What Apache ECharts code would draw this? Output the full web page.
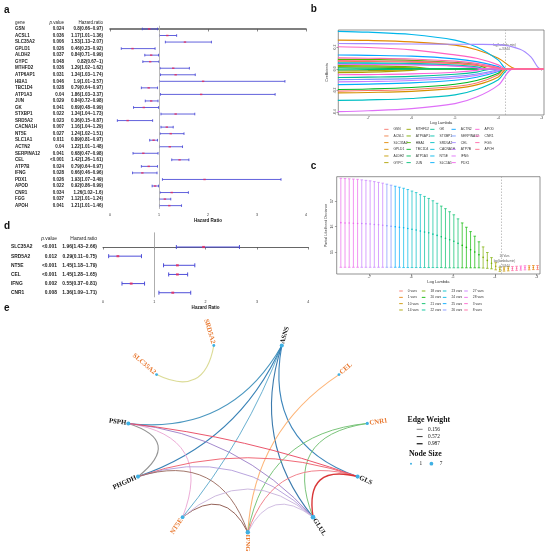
<!DOCTYPE html>
<html>
<head>
<meta charset="UTF-8">
<title>lasso cox figure</title>
<script src="https://cdn.jsdelivr.net/npm/echarts@6/dist/echarts.min.js"></script>
<style>
html, body { margin: 0; padding: 0; background: #fff; }
#main { width: 550px; height: 556px; }
</style>
</head>
<body>
<div id="main"></div>
<script>
// ---- panel a: univariate cox ----
var genesA = ['GSN','ACSL1','SLC35A2','GPLD1','ALDH2','GYPC','MTHFD2','ATP6AP1','HBA1','TBC1D4',
  'ATP1A3','JUN','GK','STXBP1','SRD5A2','CACNA1H','NT5E','SLC1A1','ACTN2','SERPINA12',
  'CEL','ATP7B','IFNG','PDX1','APOD','CNR1','FGG','APOH'];
var pA = ['0.024','0.036','0.006','0.026','0.037','0.048','0.036','0.031','0.046','0.028',
  '0.04','0.029','0.041','0.022','0.023','0.007','0.027','0.011','0.04','0.041',
  '<0.001','0.024','0.028','0.026','0.022','0.034','0.037','0.041'];
var hrA = [0.8,1.17,1.53,0.46,0.84,0.82,1.29,1.34,1.9,0.79,1.86,0.84,0.69,1.34,0.36,1.16,1.24,0.89,1.22,0.68,1.42,0.79,0.66,1.93,0.92,1.26,1.12,1.21];
var loA = [0.66,1.01,1.13,0.23,0.71,0.67,1.02,1.03,1.01,0.64,1.03,0.72,0.48,1.04,0.15,1.04,1.02,0.81,1.01,0.47,1.26,0.64,0.46,1.07,0.86,1.02,1.01,1.01];
var hiA = [0.97,1.36,2.07,0.92,0.99,1,1.62,1.74,3.57,0.97,3.37,0.98,0.99,1.73,0.87,1.29,1.51,0.97,1.48,0.98,1.61,0.97,0.96,3.49,0.99,1.6,1.24,1.46];

// ---- panel d: multivariate cox ----
var genesD = ['SLC35A2','SRD5A2','NT5E','CEL','IFNG','CNR1'];
var pD = ['<0.001','0.012','<0.001','<0.001','0.002','0.008'];
var hrD = [1.96,0.29,1.45,1.45,0.55,1.36];
var loD = [1.43,0.11,1.18,1.28,0.37,1.09];
var hiD = [2.66,0.75,1.79,1.65,0.81,1.71];

var hrTicks = [0, 4];

// ---- panel b: lasso coefficient paths (read at these log lambda values) ----
var coefKnots = [-7.7, -7, -6, -5, -4.5, -4, -3.5, -3.25];
var coefPaths = [
  [-0.205,-0.2,-0.19,-0.163,-0.13,-0.055,0,0],
  [0.07,0.068,0.062,0.048,0.032,0.008,0,0],
  [0.264,0.261,0.248,0.218,0.175,0.098,0,0],
  [-0.222,-0.218,-0.207,-0.18,-0.148,-0.075,0,0],
  [-0.02,-0.017,-0.007,0,0,0,0,0],
  [-0.035,-0.031,-0.014,0,0,0,0,0],
  [0.02,0.018,0.008,0,0,0,0,0],
  [0.03,0.028,0.018,0,0,0,0,0],
  [0.087,0.085,0.078,0.058,0.038,0,0,0],
  [-0.19,-0.186,-0.172,-0.142,-0.108,-0.04,0,0],
  [0.008,0.006,0.002,0,0,0,0,0],
  [-0.01,-0.008,-0.003,0,0,0,0,0],
  [-0.08,-0.077,-0.07,-0.05,-0.03,0,0,0],
  [0.056,0.054,0.05,0.035,0.018,0,0,0],
  [-0.29,-0.286,-0.273,-0.24,-0.19,-0.1,0,0],
  [0.048,0.046,0.041,0.028,0.012,0,0,0],
  [0.345,0.337,0.316,0.264,0.2,0.08,0,0],
  [-0.145,-0.141,-0.13,-0.105,-0.078,-0.025,0,0],
  [0.127,0.124,0.116,0.092,0.066,0.02,0,0],
  [-0.1,-0.097,-0.09,-0.07,-0.048,-0.01,0,0],
  [0.233,0.231,0.228,0.226,0.225,0.222,0.18,0.11],
  [-0.12,-0.117,-0.108,-0.085,-0.06,-0.018,0,0],
  [-0.394,-0.386,-0.366,-0.32,-0.26,-0.15,0,0],
  [0.042,0.04,0.036,0.025,0.01,0,0,0],
  [-0.055,-0.053,-0.047,-0.032,-0.015,0,0,0],
  [0.203,0.196,0.174,0.128,0.097,0.036,0,0],
  [0.1,0.097,0.09,0.07,0.05,0.012,0,0],
  [0.075,0.073,0.068,0.053,0.036,0.006,0,0]
];
var coefZero = [-3.86,-3.95,-3.57,-3.8,-5.85,-5.7,-5.75,-5.45,-4.2,-3.88,-5.9,-5.95,-4.12,-4.3,-3.74,-4.35,
  -3.8,-3.92,-3.9,-3.97,-3.03,-3.93,-3.65,-4.4,-4.35,-3.84,-3.95,-3.96];
var lambdaMin = -3.844;

// ---- panel c: cross validation ----
var cvLambda = [-7.68,-7.58,-7.48,-7.38,-7.28,-7.18,-7.08,-6.98,-6.88,-6.78,-6.68,-6.58,-6.48,-6.38,-6.28,-6.18,
  -6.08,-5.98,-5.88,-5.78,-5.68,-5.58,-5.48,-5.38,-5.28,-5.18,-5.08,-4.98,-4.88,-4.78,-4.68,-4.58,
  -4.48,-4.38,-4.28,-4.18,-4.08,-3.98,-3.88,-3.78,-3.68,-3.58,-3.48,-3.38,-3.28,-3.18,-3.08,-2.98];
var cvNvars = [28,28,28,28,28,27,27,27,27,27,27,26,26,25,25,24,24,23,23,23,22,22,22,22,21,21,21,21,21,20,20,20,
  20,20,18,18,18,14,14,10,10,8,8,3,3,1,1,0];
var cvMean = [16.15,16.14,16.14,16.13,16.12,16.12,16.11,16.10,16.08,16.07,16.05,16.03,16.01,15.99,15.97,15.95,
  15.92,15.89,15.86,15.82,15.78,15.75,15.70,15.65,15.60,15.54,15.48,15.42,15.34,15.26,15.18,15.09,
  15.00,14.89,14.79,14.67,14.56,14.44,14.32,14.33,14.34,14.35,14.36,14.37,14.38,14.38,14.39,14.39];
var cvUp = [17.89,17.88,17.87,17.86,17.85,17.83,17.81,17.79,17.76,17.73,17.70,17.66,17.62,17.58,17.54,17.50,
  17.45,17.39,17.33,17.25,17.18,17.10,17.01,16.91,16.80,16.70,16.58,16.46,16.30,16.14,15.97,15.80,
  15.62,15.40,15.20,14.98,14.78,14.58,14.40,14.41,14.42,14.43,14.44,14.45,14.46,14.46,14.47,14.47];
var cvLo = [14.40,14.40,14.40,14.40,14.40,14.40,14.40,14.40,14.40,14.40,14.40,14.40,14.40,14.40,14.40,14.39,
  14.39,14.39,14.39,14.39,14.39,14.39,14.39,14.39,14.39,14.38,14.38,14.38,14.38,14.38,14.38,14.38,
  14.38,14.38,14.37,14.36,14.34,14.30,14.24,14.25,14.26,14.27,14.28,14.29,14.30,14.30,14.31,14.31];
var cvGroups = ['0 vars','1 vars','10 vars','14 vars','18 vars','20 vars','21 vars','22 vars',
  '23 vars','24 vars','25 vars','26 vars','27 vars','28 vars','3 vars','8 vars'];
var cvTicksY = [15, 16, 17];
var lambdaTicks = [-7, -6, -5, -4, -3];
var coefTicksY = [-0.4, -0.2, 0, 0.2];

// ---- panel e: correlation network ----
var netNodes = ['ASNS','CEL','CNR1','GLS','GLUL','IFNG','NT5E','PHGDH','PSPH','SLC35A2','SRD5A2'];
var netModelGenes = ['CEL','CNR1','IFNG','NT5E','SLC35A2','SRD5A2'];
var netEdges = [
  ['SLC35A2','SRD5A2','#d8d88e',1.1],
  ['ASNS','PSPH','#3a8dba',1.1],
  ['ASNS','PHGDH','#2877b0',1.1],
  ['ASNS','NT5E','#4ba0c6',0.9],
  ['ASNS','GLUL','#2a6fa6',1.1],
  ['ASNS','GLS','#2b7bb5',1.1],
  ['CEL','IFNG','#fdae6b',1.1],
  ['CNR1','IFNG','#6fbf6f',1.0],
  ['CNR1','GLUL','#6fbf6f',1.0],
  ['PSPH','PHGDH','#8a8a8a',1.1],
  ['PSPH','NT5E','#eaa6d4',1.0],
  ['PSPH','GLUL','#9b7fc8',1.0],
  ['PSPH','GLS','#e8485f',1.0],
  ['PHGDH','GLS','#ef5d6b',1.0],
  ['PHGDH','GLUL','#b39ddb',1.0],
  ['PHGDH','IFNG','#9a6a5e',1.0],
  ['NT5E','IFNG','#8c564b',1.0],
  ['NT5E','GLUL','#c9b3dc',1.0],
  ['IFNG','GLUL','#cdb8e0',1.0],
  ['IFNG','GLS','#f07a84',1.0],
  ['GLUL','GLS','#d62728',1.4]
];

var SANS = '"Liberation Sans", Arial, sans-serif';
var SERIF = '"Liberation Serif", "Times New Roman", serif';
var BAR_BLUE = '#4646d6';
var DOT_RED = '#e8285a';
var NODE_BLUE = '#3fb0e3';
var ORANGE = '#e8762c';

// ggplot2 style hue palette
function hcl(h, c, l) {
  var rad = h * Math.PI / 180;
  var U = c * Math.cos(rad), V = c * Math.sin(rad);
  var Xn = 0.95047, Yn = 1.0, Zn = 1.08883;
  var den = Xn + 15 * Yn + 3 * Zn;
  var un = 4 * Xn / den, vn = 9 * Yn / den;
  var Y = l > 8 ? Math.pow((l + 16) / 116, 3) : l / 903.3;
  var u = U / (13 * l) + un, v = V / (13 * l) + vn;
  var X = 9 * Y * u / (4 * v);
  var Z = (9 * Y - 15 * v * Y - v * X) / (3 * v);
  var rgb = [3.2404542 * X - 1.5371385 * Y - 0.4985314 * Z,
    -0.9692660 * X + 1.8760108 * Y + 0.0415560 * Z,
    0.0556434 * X - 0.2040259 * Y + 1.0572252 * Z];
  return '#' + rgb.map(function (q) {
    q = q <= 0.0031308 ? 12.92 * q : 1.055 * Math.pow(q, 1 / 2.4) - 0.055;
    q = Math.round(Math.max(0, Math.min(1, q)) * 255);
    return (q < 16 ? '0' : '') + q.toString(16);
  }).join('');
}
function huePal(n) {
  var out = [];
  for (var i = 0; i < n; i++) out.push(hcl(15 + i * 360 / n, 100, 65));
  return out;
}
var geneCols = huePal(genesA.length);
var groupCols = huePal(cvGroups.length);

// ---------- layout (pixels) ----------
var grids = [
  {left: 110, top: 25.7, width: 196, height: 183.2},    // a
  {left: 103, top: 232.4, width: 205.2, height: 64.9},  // d
  {left: 338.3, top: 30, width: 205.7, height: 85},     // b
  {left: 336.7, top: 176.7, width: 203.3, height: 97.3},// c
  {left: 127.1, top: 341.7, width: 241.4, height: 190.6}// e
];
grids.forEach(function (g) { g.outerBoundsMode = 'none'; g.containLabel = false; });
grids[2].show = true; grids[2].borderColor = '#666'; grids[2].borderWidth = 0.7;
grids[3].show = true; grids[3].borderColor = '#666'; grids[3].borderWidth = 0.7;

var RX = grids[4].width / 2, RY = grids[4].height / 2;
var B_MIN = -7.69, B_MAX = -2.947, C_MIN = -7.779, C_MAX = -2.921;

// ---------- forest helpers ----------
function forestBars(idx, lo, hi, cap, lw) {
  return {
    type: 'custom', xAxisIndex: idx, yAxisIndex: idx, silent: true, clip: false,
    data: lo.map(function (v, i) { return [v, hi[i], i]; }),
    encode: {x: [0, 1], y: 2},
    renderItem: function (params, api) {
      var y = api.value(2);
      var a = api.coord([api.value(0), y]);
      var b = api.coord([api.value(1), y]);
      var st = {stroke: BAR_BLUE, lineWidth: lw};
      return {type: 'group', children: [
        {type: 'line', shape: {x1: a[0], y1: a[1], x2: b[0], y2: b[1]}, style: st},
        {type: 'line', shape: {x1: a[0], y1: a[1] - cap, x2: a[0], y2: a[1] + cap}, style: st},
        {type: 'line', shape: {x1: b[0], y1: b[1] - cap, x2: b[0], y2: b[1] + cap}, style: st}
      ]};
    }
  };
}
function forestPoints(idx, hr, size, refColor) {
  return {
    type: 'scatter', xAxisIndex: idx, yAxisIndex: idx, silent: true,
    symbol: 'rect', symbolSize: size, itemStyle: {color: DOT_RED}, z: 3,
    data: hr.map(function (v, i) { return [v, i]; }),
    markLine: {
      silent: true, symbol: 'none', label: {show: false},
      lineStyle: {color: refColor, width: 0.8, type: 'solid'},
      data: [{xAxis: 1}]
    }
  };
}
function forestTable(idx, genes, pv, hr, lo, hi, cols, fs, showGene) {
  return {
    type: 'custom', xAxisIndex: idx, yAxisIndex: idx, silent: true, clip: false,
    data: genes.map(function (g, i) { return [0, i]; }),
    encode: {x: 0, y: 1},
    renderItem: function (params, api) {
      var i = params.dataIndex;
      var pt = api.coord([0, api.value(1)]);
      function txt(s, x, y, align, weight, rich) {
        var style = {text: s, fill: '#222', fontSize: fs, fontWeight: weight, fontFamily: SANS,
          align: align, verticalAlign: 'middle'};
        if (rich) style.rich = rich;
        return {type: 'text', x: x, y: y, style: style};
      }
      var kids = [
        txt(genes[i], pt[0] + cols[0], pt[1], 'left', 'bold'),
        txt(pv[i], pt[0] + cols[1], pt[1], 'right', 'bold'),
        txt(hr[i] + '(' + lo[i] + '~' + hi[i] + ')', pt[0] + cols[2], pt[1], 'right', 'bold')
      ];
      if (i === 0) {
        var hy = api.coord([0, -0.92])[1];
        if (showGene) kids.push(txt('gene', pt[0] + cols[0], hy, 'left', 'normal'));
        kids.push(txt('{i|p}.value', pt[0] + cols[1], hy, 'right', 'normal',
          {i: {fontStyle: 'italic', fontSize: fs, fontFamily: SANS}}));
        kids.push(txt('Hazard.ratio', pt[0] + cols[2], hy, 'right', 'normal'));
      }
      return {type: 'group', children: kids};
    }
  };
}
function hrAxis(idx, lineW, labelMargin, nameGap) {
  return {
    type: 'value', gridIndex: idx, min: hrTicks[0], max: hrTicks[1], interval: 1,
    axisLine: {show: true, lineStyle: {color: '#555', width: lineW}},
    axisTick: {show: true, length: 2.5, lineStyle: {color: '#555', width: 0.7}},
    axisLabel: {fontSize: 3.6, color: '#333', margin: labelMargin, fontFamily: SANS},
    splitLine: {show: false},
    name: 'Hazard Ratio', nameLocation: 'middle', nameGap: nameGap,
    nameTextStyle: {fontSize: 4.6, fontWeight: 'bold', color: '#222', fontFamily: SANS}
  };
}
function lassoX(idx, mn, mx) {
  return {
    type: 'value', gridIndex: idx, min: mn, max: mx,
    axisLine: {show: false},
    axisTick: {show: true, length: 1.8, customValues: lambdaTicks, lineStyle: {color: '#666', width: 0.6}},
    axisLabel: {fontSize: 3.4, color: '#444', margin: 1.8, customValues: lambdaTicks, fontFamily: SANS},
    splitLine: {show: false},
    name: 'Log Lambda', nameLocation: 'middle', nameGap: 5.5,
    nameTextStyle: {fontSize: 4, color: '#333', fontFamily: SANS}
  };
}
function lassoY(idx, mn, mx, ticks, name, gap, fmt, margin) {
  return {
    type: 'value', gridIndex: idx, min: mn, max: mx,
    axisLine: {show: false},
    axisTick: {show: true, length: 1.8, customValues: ticks, lineStyle: {color: '#666', width: 0.6}},
    axisLabel: {fontSize: 3.4, color: '#444', margin: margin, rotate: 90, customValues: ticks,
      formatter: fmt, fontFamily: SANS},
    splitLine: {show: false},
    name: name, nameLocation: 'middle', nameGap: gap, nameRotate: 90,
    nameTextStyle: {fontSize: 3.6, color: '#333', fontFamily: SANS}
  };
}

var series = [];
// a
series.push(forestTable(0, genesA, pA, hrA, loA, hiA, [-95, -46, -7], 4.5, true));
series.push(forestBars(0, loA, hiA, 1.3, 0.85));
series.push(forestPoints(0, hrA, [2.4, 1.5], '#aaa'));
// d
series.push(forestTable(1, genesD, pD, hrD, loD, hiD, [-92, -46, -6], 4.9, false));
series.push(forestBars(1, loD, hiD, 2, 0.95));
series.push(forestPoints(1, hrD, [2.8, 2.2], '#999'));

// b: coefficient paths
genesA.forEach(function (g, i) {
  var pts = [];
  for (var k = 0; k < coefKnots.length; k++) {
    if (coefKnots[k] < coefZero[i]) pts.push([coefKnots[k], coefPaths[i][k]]);
  }
  pts.push([coefZero[i], 0], [B_MAX, 0]);
  series.push({
    type: 'line', name: g, xAxisIndex: 2, yAxisIndex: 2, data: pts,
    showSymbol: false, smooth: 0.35, silent: true, clip: true,
    color: geneCols[i], lineStyle: {color: geneCols[i], width: 1.15}
  });
});
series.push({
  type: 'scatter', xAxisIndex: 2, yAxisIndex: 2, symbolSize: 0, silent: true,
  data: [[-3.86, 0.197]],
  label: {show: true, position: 'inside', formatter: 'log(lambda.min)\n=-3.844',
    fontSize: 3.2, lineHeight: 3.6, color: '#333', fontFamily: SANS},
  markLine: {silent: true, symbol: 'none', label: {show: false},
    lineStyle: {color: '#999', width: 0.6, type: [1.5, 1.5]}, data: [{xAxis: lambdaMin}]}
});

// c: cv error bars per variable-count group
cvGroups.forEach(function (grp, k) {
  var rows = [];
  cvLambda.forEach(function (lam, i) {
    if (cvNvars[i] + ' vars' === grp) rows.push([lam, cvLo[i], cvUp[i], cvMean[i]]);
  });
  series.push({
    type: 'custom', name: grp, xAxisIndex: 3, yAxisIndex: 3, silent: true,
    itemStyle: {color: groupCols[k]}, color: groupCols[k],
    data: rows, encode: {x: 0, y: [1, 2, 3]},
    renderItem: function (params, api) {
      var x = api.value(0);
      var a = api.coord([x, api.value(1)]);
      var b = api.coord([x, api.value(2)]);
      var m = api.coord([x, api.value(3)]);
      var col = groupCols[k];
      var st = {stroke: col, lineWidth: 0.7};
      return {type: 'group', children: [
        {type: 'line', shape: {x1: a[0], y1: a[1], x2: b[0], y2: b[1]}, style: st},
        {type: 'line', shape: {x1: a[0] - 1.3, y1: a[1], x2: a[0] + 1.3, y2: a[1]}, style: st},
        {type: 'line', shape: {x1: b[0] - 1.3, y1: b[1], x2: b[0] + 1.3, y2: b[1]}, style: st},
        {type: 'circle', shape: {cx: m[0], cy: m[1], r: 0.8}, style: {fill: col}}
      ]};
    }
  });
});
series.push({
  type: 'scatter', xAxisIndex: 3, yAxisIndex: 3, symbolSize: 0, silent: true,
  data: [[-3.77, 14.64]],
  label: {show: true, position: 'inside', formatter: '14 Vars\nlog(lambda.min)\n=-3.844',
    fontSize: 3, lineHeight: 5.3, color: '#333', fontFamily: SANS},
  markLine: {silent: true, symbol: 'none', label: {show: false},
    lineStyle: {color: '#999', width: 0.6, type: [1.5, 1.5]}, data: [{xAxis: lambdaMin}]}
});

// e: network on an ellipse (nodes in alphabetical order round the ring)
var angleOf = {};
netNodes.forEach(function (n, i) { angleOf[n] = (286.36 + i * 360 / netNodes.length) * Math.PI / 180; });
var degree = {};
netNodes.forEach(function (n) { degree[n] = 0; });
netEdges.forEach(function (e) { degree[e[0]]++; degree[e[1]]++; });

// arc bent towards the centre, like arcs drawn on a circular layout
function arcCurveness(a1, a2) {
  var p1 = [Math.cos(a1), Math.sin(a1)], p2 = [Math.cos(a2), Math.sin(a2)];
  var m = [(p1[0] + p2[0]) / 2, (p1[1] + p2[1]) / 2];
  var ml = Math.sqrt(m[0] * m[0] + m[1] * m[1]);
  if (ml < 1e-3) return 0;
  var half = Math.acos(Math.min(1, ml));
  var apexR = 1 / Math.cos(half) - Math.tan(half);
  var apex = [m[0] / ml * apexR, m[1] / ml * apexR];
  var q = [2 * apex[0] - m[0], 2 * apex[1] - m[1]];
  var P1 = [p1[0] * RX, p1[1] * RY], P2 = [p2[0] * RX, p2[1] * RY], Q = [q[0] * RX, q[1] * RY];
  var M = [(P1[0] + P2[0]) / 2, (P1[1] + P2[1]) / 2];
  var n = [P2[1] - P1[1], P1[0] - P2[0]];
  return ((Q[0] - M[0]) * n[0] + (Q[1] - M[1]) * n[1]) / (n[0] * n[0] + n[1] * n[1]);
}

var nodeData = netNodes.map(function (n) {
  var a = angleOf[n];
  var c = Math.cos(a), s = Math.sin(a);
  var size = 2.6 + degree[n] * 0.3;
  var right = c > -1e-6;
  var deg = a * 180 / Math.PI;
  return {
    name: n, value: [c, s], symbolSize: size,
    label: {
      show: true, formatter: n,
      position: [size / 2 + 2.2 * c, size / 2 + 2.2 * s],
      align: right ? 'left' : 'right', verticalAlign: 'middle',
      rotate: right ? -deg : 180 - deg,
      color: netModelGenes.indexOf(n) >= 0 ? ORANGE : '#111',
      fontSize: 6.8, fontWeight: 'bold', fontFamily: SERIF
    }
  };
});
var linkData = netEdges.map(function (e) {
  return {
    source: e[0], target: e[1],
    lineStyle: {color: e[2], width: e[3], opacity: 0.92, curveness: arcCurveness(angleOf[e[0]], angleOf[e[1]])}
  };
});
series.push({
  type: 'graph', coordinateSystem: 'cartesian2d', xAxisIndex: 4, yAxisIndex: 4,
  layout: 'none', silent: true, symbol: 'circle',
  itemStyle: {color: NODE_BLUE}, emphasis: {disabled: true},
  data: nodeData, links: linkData, z: 2
});

// legends for b and c
var legends = [];
var bCols = [384.2, 406.5, 430.2, 451.5, 475.2];
for (var col = 0; col < 5; col++) {
  legends.push({
    data: genesA.slice(col * 6, col * 6 + 6), orient: 'vertical', left: bCols[col], top: 126.8,
    icon: 'rect', itemWidth: 4.3, itemHeight: 0.9, itemGap: 1.67, padding: 0, selectedMode: false,
    textStyle: {fontSize: 3.3, lineHeight: 5, color: '#333', fontFamily: SANS}
  });
}
var cCols = [399.2, 421.8, 442.8, 464.2];
for (col = 0; col < 4; col++) {
  legends.push({
    data: cvGroups.slice(col * 4, col * 4 + 4), orient: 'vertical', left: cCols[col], top: 288.5,
    icon: 'rect', itemWidth: 3.6, itemHeight: 0.9, itemGap: 1.33, padding: 0, selectedMode: false,
    textStyle: {fontSize: 3.3, lineHeight: 5, color: '#333', fontFamily: SANS}
  });
}

function letter(t, x, y) {
  return {type: 'text', x: x, y: y, silent: true,
    style: {text: t, fontSize: 10, fontWeight: 'bold', fontFamily: SANS, fill: '#111', verticalAlign: 'middle'}};
}
function serifText(t, x, y, fs, weight, align) {
  return {type: 'text', x: x, y: y, silent: true,
    style: {text: t, fontSize: fs, fontWeight: weight, fontFamily: SERIF, fill: '#111',
      align: align, verticalAlign: 'middle'}};
}
var graphic = [
  letter('a', 4, 10.3), letter('b', 310.7, 9.7), letter('c', 310.7, 166.7),
  letter('d', 4, 226.7), letter('e', 4, 308.3),
  serifText('Edge Weight', 428.8, 419.8, 7.8, 'bold', 'center'),
  {type: 'line', silent: true, shape: {x1: 416.7, y1: 429.3, x2: 422.6, y2: 429.3}, style: {stroke: '#333', lineWidth: 0.6}},
  {type: 'line', silent: true, shape: {x1: 416.7, y1: 436.6, x2: 422.6, y2: 436.6}, style: {stroke: '#333', lineWidth: 1.0}},
  {type: 'line', silent: true, shape: {x1: 416.7, y1: 443.7, x2: 422.6, y2: 443.7}, style: {stroke: '#333', lineWidth: 1.4}},
  serifText('0.156', 428, 429.3, 5.3, 'normal', 'left'),
  serifText('0.572', 428, 436.6, 5.3, 'normal', 'left'),
  serifText('0.987', 428, 443.7, 5.3, 'normal', 'left'),
  serifText('Node Size', 425.3, 453.8, 7.8, 'bold', 'center'),
  {type: 'circle', silent: true, shape: {cx: 411, cy: 463.7, r: 1.0}, style: {fill: NODE_BLUE}},
  serifText('1', 419.5, 463.7, 5.3, 'normal', 'left'),
  {type: 'circle', silent: true, shape: {cx: 431.4, cy: 463.7, r: 1.9}, style: {fill: NODE_BLUE}},
  serifText('7', 439.8, 463.7, 5.3, 'normal', 'left')
];

var option = {
  animation: false,
  backgroundColor: '#fff',
  grid: grids,
  legend: legends,
  xAxis: [
    hrAxis(0, 1.6, 4.5, 8.6),
    hrAxis(1, 0.9, 3, 6.5),
    lassoX(2, B_MIN, B_MAX),
    lassoX(3, C_MIN, C_MAX),
    {type: 'value', gridIndex: 4, min: -1, max: 1, show: false}
  ],
  yAxis: [
    {type: 'value', gridIndex: 0, min: -0.5, max: 27.5, inverse: true, show: false},
    {type: 'value', gridIndex: 1, min: -1.6, max: 5.5, inverse: true, show: false},
    lassoY(2, -0.425, 0.357, coefTicksY, 'Coefficients', 9.5, function (v) { return v.toFixed(1); }, 1.8),
    lassoY(3, 14.137, 17.953, cvTicksY, 'Partial Likelihood Deviance', 8.5, function (v) { return String(v); }, 3),
    {type: 'value', gridIndex: 4, min: -1, max: 1, inverse: true, show: false}
  ],
  series: series,
  graphic: graphic
};

var chart = echarts.init(document.getElementById('main'));
chart.setOption(option);
</script>
</body>
</html>
